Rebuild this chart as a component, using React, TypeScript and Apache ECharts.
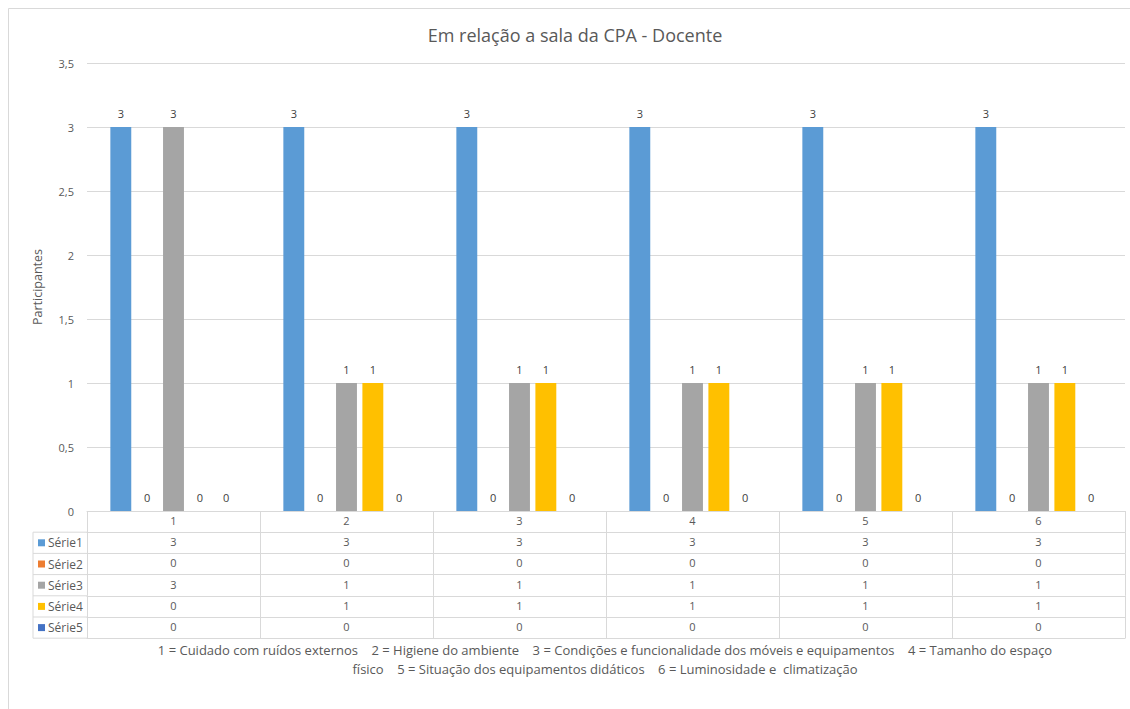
import React, { useEffect, useRef } from "react";
import * as echarts from "echarts";

const categories = ["1", "2", "3", "4", "5", "6"];
const seriesNames = ["Série1", "Série2", "Série3", "Série4", "Série5"];
const serie1 = [3, 3, 3, 3, 3, 3];
const serie2 = [0, 0, 0, 0, 0, 0];
const serie3 = [3, 1, 1, 1, 1, 1];
const serie4 = [0, 1, 1, 1, 1, 1];
const serie5 = [0, 0, 0, 0, 0, 0];
const seriesValues = [serie1, serie2, serie3, serie4, serie5];
const seriesColors = ["#5b9bd5", "#ed7d31", "#a5a5a5", "#ffc000", "#4472c4"];
const titleText = "Em relação a sala da CPA - Docente";
const yAxisName = "Participantes";
const captionLines = [
  "1 = Cuidado com ruídos externos    2 = Higiene do ambiente    3 = Condições e funcionalidade dos móveis e equipamentos    4 = Tamanho do espaço",
  "físico    5 = Situação dos equipamentos didáticos    6 = Luminosidade e  climatização",
];

const FONT = "'Open Sans', 'Noto Sans', sans-serif";
const TEXT = "#595959";
const LINE = "#d9d9d9";

const GRID_LEFT = 87;
const GRID_RIGHT_X = 1125;
const GRID_TOP = 63;
const GRID_BOTTOM_Y = 511;
const ROW_H = 21.2;
const TABLE_LEFT = 33;

export default function App() {
  const ref = useRef<HTMLDivElement>(null);
  useEffect(() => {
    if (!ref.current) return;
    const chart = echarts.init(ref.current, null, { renderer: "svg" });

    const xAxes: any[] = [
      {
        type: "category",
        data: categories,
        position: "bottom",
        gridIndex: 0,
        axisLine: { show: true, lineStyle: { color: LINE } },
        axisTick: { show: true, interval: 0, length: ROW_H, lineStyle: { color: LINE } },
        axisLabel: { show: true, interval: 0, margin: 4, color: TEXT, fontSize: 11, fontFamily: FONT },
      },
    ];
    seriesValues.forEach((vals, k) => {
      xAxes.push({
        type: "category",
        data: categories,
        position: "bottom",
        offset: ROW_H * (k + 1),
        gridIndex: 0,
        axisLine: { show: true, lineStyle: { color: LINE } },
        axisTick: { show: true, interval: 0, length: ROW_H, lineStyle: { color: LINE } },
        axisLabel: {
          show: true,
          interval: 0,
          margin: 4,
          color: TEXT,
          fontSize: 11,
          fontFamily: FONT,
          formatter: (_v: string, i: number) => String(vals[i]),
        },
      });
    });
    xAxes.push({
      type: "category",
      data: categories,
      position: "bottom",
      offset: ROW_H * (seriesValues.length + 1),
      gridIndex: 0,
      axisLine: { show: true, lineStyle: { color: LINE } },
      axisTick: { show: false },
      axisLabel: { show: false },
    });

    const graphics: any[] = [
      {
        type: "rect",
        shape: { x: 8.5, y: 8.5, width: 1140, height: 720 },
        style: { fill: "none", stroke: LINE, lineWidth: 1 },
        silent: true,
      },
      {
        type: "line",
        shape: { x1: TABLE_LEFT, y1: GRID_BOTTOM_Y + ROW_H, x2: TABLE_LEFT, y2: GRID_BOTTOM_Y + ROW_H * 6 },
        style: { stroke: LINE, lineWidth: 1 },
      },
    ];
    for (let k = 1; k <= 6; k++) {
      const y = GRID_BOTTOM_Y + ROW_H * k;
      graphics.push({
        type: "line",
        shape: { x1: TABLE_LEFT, y1: y, x2: GRID_LEFT, y2: y },
        style: { stroke: LINE, lineWidth: 1 },
      });
    }
    seriesNames.forEach((name, k) => {
      const cy = GRID_BOTTOM_Y + ROW_H * (k + 1) + ROW_H / 2;
      graphics.push({
        type: "rect",
        shape: { x: 38, y: cy - 3.5, width: 7, height: 7 },
        style: { fill: seriesColors[k] },
      });
      graphics.push({
        type: "text",
        x: 48,
        y: cy,
        style: { text: name, fill: TEXT, fontSize: 12, fontFamily: FONT, verticalAlign: "middle", align: "left" },
      });
    });
    captionLines.forEach((line, i) => {
      graphics.push({
        type: "text",
        x: 605,
        y: 650 + i * 19,
        style: { text: line, fill: TEXT, fontSize: 13, fontFamily: FONT, align: "center", verticalAlign: "middle" },
      });
    });

    chart.setOption({
      animation: false,
      backgroundColor: "#ffffff",
      title: {
        text: titleText,
        left: 570,
        textAlign: "center",
        top: 21,
        textStyle: { fontSize: 18, fontWeight: "normal", color: TEXT, fontFamily: FONT },
      },
      grid: {
        left: GRID_LEFT,
        right: 1130 - GRID_RIGHT_X,
        top: GRID_TOP,
        bottom: 709 - GRID_BOTTOM_Y,
        containLabel: false,
      },
      xAxis: xAxes,
      yAxis: {
        type: "value",
        min: 0,
        max: 3.5,
        interval: 0.5,
        name: yAxisName,
        nameLocation: "middle",
        nameGap: 43,
        nameTextStyle: { color: TEXT, fontSize: 12.5, fontFamily: FONT },
        axisLine: { show: false },
        axisTick: { show: false },
        axisLabel: {
          color: TEXT,
          fontSize: 11,
          fontFamily: FONT,
          margin: 13,
          formatter: (v: number) => String(v).replace(".", ","),
        },
        splitLine: { lineStyle: { color: LINE } },
      },
      series: seriesValues.map((vals, k) => ({
        type: "bar",
        name: seriesNames[k],
        data: vals,
        xAxisIndex: 0,
        barGap: "26%",
        barCategoryGap: "27%",
        itemStyle: { color: seriesColors[k] },
        label: {
          show: true,
          position: "top",
          distance: 8,
          color: "#404040",
          fontSize: 11,
          fontFamily: FONT,
        },
      })),
      graphic: graphics,
    });
    return () => chart.dispose();
  }, []);
  return (
    <div
      ref={ref}
      style={{ position: "absolute", left: 0, top: 0, width: 1130, height: 709 }}
    />
  );
}
